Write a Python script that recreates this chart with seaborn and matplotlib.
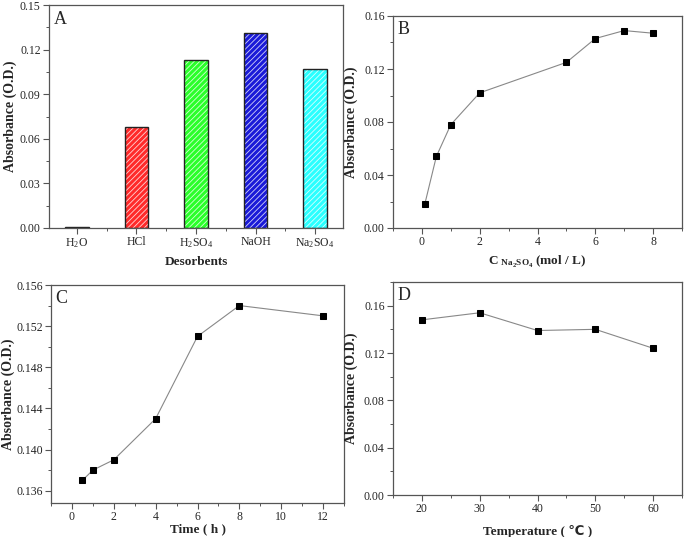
import matplotlib
matplotlib.use('Agg')
import matplotlib.pyplot as plt
from matplotlib.ticker import MultipleLocator, FormatStrFormatter
import numpy as np
import pandas as pd
import seaborn as sns

# values
desorbents = ['H$_2$O', 'HCl', 'H$_2$SO$_4$', 'NaOH', 'Na$_2$SO$_4$']
desorb_abs = [0.001, 0.068, 0.113, 0.131, 0.107]
bar_colors = ['#111111', '#ff2a2a', '#2aff2a', '#1a1ad8', '#2affff']

conc = [0.1, 0.5, 1, 2, 5, 6, 7, 8]
conc_abs = [0.018, 0.054, 0.078, 0.102, 0.125, 0.143, 0.149, 0.147]

time_h = [0.5, 1, 2, 4, 6, 8, 12]
time_abs = [0.137, 0.138, 0.139, 0.143, 0.151, 0.154, 0.153]

temps = [20, 30, 40, 50, 60]
temp_abs = [0.148, 0.154, 0.139, 0.140, 0.124]

sns.set_theme(style='ticks')
plt.rcParams['font.family'] = ['Liberation Serif', 'DejaVu Sans']
plt.rcParams['mathtext.fontset'] = 'custom'
plt.rcParams['mathtext.rm'] = 'Liberation Serif'
plt.rcParams['mathtext.bf'] = 'Liberation Serif:bold'
plt.rcParams['mathtext.default'] = 'regular'
plt.rcParams['hatch.linewidth'] = 0.6

fig = plt.figure(figsize=(6.85, 5.37), dpi=100)
W, H = 685, 537
def box(l, t, r, b):
    return [l / W, 1 - b / H, (r - l) / W, (b - t) / H]

axA = fig.add_axes(box(49, 5, 343, 228))
axB = fig.add_axes(box(393, 16, 682, 228))
axC = fig.add_axes(box(51, 285, 344, 503))
axD = fig.add_axes(box(393, 282, 682, 495))

xlab_kw = dict(fontsize=9.5, fontweight='bold')
ylab_kw = dict(fontsize=10, fontweight='bold')

# A - bars
dfA = pd.DataFrame({'des': desorbents, 'abs': desorb_abs})
sns.barplot(data=dfA, x='des', y='abs', hue='des', palette=bar_colors,
            saturation=1, width=0.4, edgecolor='#222222', linewidth=1.0,
            legend=False, ax=axA)
for i, p in enumerate(axA.patches):
    if i > 0:
        p.set_hatch('//////')
        p._hatch_color = (1, 1, 1, 0.8)
axA.set_xlim(-0.47, 4.47)
axA.set_ylim(0, 0.15)
axA.yaxis.set_major_locator(MultipleLocator(0.03))
axA.yaxis.set_minor_locator(MultipleLocator(0.015))
axA.set_xticks(np.arange(0.5, 4, 1), minor=True)
axA.yaxis.set_major_formatter(FormatStrFormatter('%.2f'))
axA.set_xlabel('Desorbents', **xlab_kw)
axA.set_ylabel('Absorbance (O.D.)', labelpad=2, **ylab_kw)

# B, C, D - lines
def line(ax, x, y):
    d = pd.DataFrame({'x': x, 'y': y})
    sns.lineplot(data=d, x='x', y='y', ax=ax, color='#888888', linewidth=0.8,
                 marker='s', markersize=5, markerfacecolor='black',
                 markeredgecolor='black')

line(axB, conc, conc_abs)
axB.set_xlim(-1, 9)
axB.set_ylim(0, 0.16)
axB.xaxis.set_major_locator(MultipleLocator(2))
axB.xaxis.set_minor_locator(MultipleLocator(1))
axB.yaxis.set_major_locator(MultipleLocator(0.04))
axB.yaxis.set_minor_locator(MultipleLocator(0.02))
axB.yaxis.set_major_formatter(FormatStrFormatter('%.2f'))
axB.set_xlabel(r'C $\mathregular{_{Na_2SO_4}}$ (mol / L)', **xlab_kw)
axB.set_ylabel('Absorbance (O.D.)', **ylab_kw)

line(axC, time_h, time_abs)
axC.set_xlim(-1, 13)
axC.set_ylim(0.1348, 0.156)
axC.xaxis.set_major_locator(MultipleLocator(2))
axC.xaxis.set_minor_locator(MultipleLocator(1))
axC.yaxis.set_major_locator(MultipleLocator(0.004))
axC.yaxis.set_minor_locator(MultipleLocator(0.002))
axC.yaxis.set_major_formatter(FormatStrFormatter('%.3f'))
axC.set_xlabel('Time ( h )', labelpad=0, **xlab_kw)
axC.set_ylabel('Absorbance (O.D.)', labelpad=1, **ylab_kw)

line(axD, temps, temp_abs)
axD.set_xlim(15, 65)
axD.set_ylim(0, 0.18)
axD.xaxis.set_major_locator(MultipleLocator(10))
axD.xaxis.set_minor_locator(MultipleLocator(5))
axD.yaxis.set_major_locator(MultipleLocator(0.04))
axD.yaxis.set_minor_locator(MultipleLocator(0.02))
axD.yaxis.set_major_formatter(FormatStrFormatter('%.2f'))
axD.set_xlabel('Temperature ( ℃ )', labelpad=7, **xlab_kw)
axD.set_ylabel('Absorbance (O.D.)', **ylab_kw)

for ax, letter in zip([axA, axB, axC, axD], 'ABCD'):
    for s in ax.spines.values():
        s.set_visible(True)
        s.set_color('#555555')
        s.set_linewidth(0.9)
    ax.tick_params(which='major', direction='out', length=4, width=0.8,
                   labelsize=8.5, color='#555555', pad=2)
    ax.tick_params(which='minor', direction='out', length=2, width=0.7,
                   color='#555555')
    ax.text(0.015, 0.975, letter, transform=ax.transAxes, ha='left', va='top',
            fontsize=13)

fig.savefig('out.png', dpi=100)
